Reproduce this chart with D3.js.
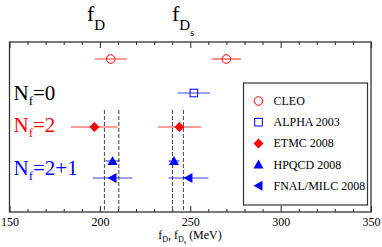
<!DOCTYPE html>
<html>
<head>
<meta charset="utf-8">
<script src="https://cdn.jsdelivr.net/npm/d3@7"></script>
<style>
  body { margin: 0; background: #fff; }
  svg text { font-family: 'Liberation Serif', 'DejaVu Serif', serif; }
</style>
</head>
<body>
<svg id="chart" width="382" height="247"></svg>
<script>
// data
var series = ['CLEO', 'ALPHA 2003', 'ETMC 2008', 'HPQCD 2008', 'FNAL/MILC 2008'];
var rows = [1, 2, 3, 4, 4.5];          // vertical slot of each series
var fD = [206, null, 197, 207, 207];
var fDerr = [9, null, 13, 4, 11];
var fDs = [270, 252, 244, 241, 249];
var fDserr = [8, 9, 12, 3, 11];
var colors = ['#ff0000', '#0000ff', '#ff0000', '#0000ff', '#0000ff'];
var symbols = ['circle', 'square', 'diamond', 'triangle', 'left'];
var bands = [202.5, 210.5, 240.2, 246.2];   // dashed vertical lines
var xTicks = [150, 200, 250, 300, 350];

var margin = { top: 42, right: 11, bottom: 35, left: 9.5 };
var width = 382 - margin.left - margin.right;
var height = 247 - margin.top - margin.bottom;

var svg = d3.select('#chart').append('g')
  .attr('transform', 'translate(' + margin.left + ',' + margin.top + ')');

var xScale = d3.scaleLinear().domain([150, 350]).range([0, width]);
var yScale = d3.scaleLinear().domain([0.5, 5.5]).range([0, height]);

// minor and major ticks, bottom and top, pointing inside
function axes(fn, ty, ticks, size, labels) {
  var ax = fn(xScale).tickValues(ticks).tickSize(size).tickSizeOuter(0);
  if (!labels) ax.tickFormat('');
  var g = svg.append('g').attr('transform', 'translate(0,' + ty + ')').call(ax);
  g.select('.domain').remove();
  g.selectAll('line').attr('stroke', '#222');
  return g;
}
var minor = d3.range(160, 350, 10).filter(function (v) { return v % 50 !== 0; });
axes(d3.axisBottom, height, minor, -3, false);
axes(d3.axisTop, 0, minor, -3, false);
var bx = axes(d3.axisBottom, height, xTicks, -6, true);
bx.selectAll('text').attr('y', 5).attr('font-size', '12px')
  .attr('fill', '#000').style('font-family', "'Liberation Serif', serif");
axes(d3.axisTop, 0, xTicks, -6, false);

// dashed bands
svg.selectAll('.band').data(bands).enter().append('line')
  .attr('x1', function (d) { return xScale(d); })
  .attr('x2', function (d) { return xScale(d); })
  .attr('y1', yScale(2.5)).attr('y2', height)
  .attr('stroke', '#444').attr('stroke-width', 1)
  .attr('stroke-dasharray', '4,2');

// points
var pts = [];
series.forEach(function (s, i) {
  if (fD[i] !== null) pts.push({ v: fD[i], e: fDerr[i], i: i });
  pts.push({ v: fDs[i], e: fDserr[i], i: i });
});

svg.selectAll('.err').data(pts).enter().append('line')
  .attr('x1', function (d) { return xScale(d.v - d.e); })
  .attr('x2', function (d) { return xScale(d.v + d.e); })
  .attr('y1', function (d) { return yScale(rows[d.i]); })
  .attr('y2', function (d) { return yScale(rows[d.i]); })
  .attr('stroke', function (d) { return colors[d.i]; })
  .attr('stroke-opacity', 0.75)
  .attr('stroke-width', 1.2);

function drawSymbol(g, kind, color) {
  if (kind === 'circle') {
    g.append('circle').attr('r', 4.3).attr('fill', 'none')
      .attr('stroke', color).attr('stroke-width', 1);
  } else if (kind === 'square') {
    g.append('rect').attr('x', -3.8).attr('y', -3.8).attr('width', 7.6).attr('height', 7.6)
      .attr('fill', 'none').attr('stroke', color).attr('stroke-width', 1);
  } else if (kind === 'diamond') {
    g.append('path').attr('d', 'M0,-5L5,0L0,5L-5,0Z').attr('fill', color);
  } else if (kind === 'triangle') {
    g.append('path').attr('d', 'M0,-5L5,4L-5,4Z').attr('fill', color);
  } else {
    g.append('path').attr('d', 'M-5,0L4,-5L4,5Z').attr('fill', color);
  }
}

svg.selectAll('.pt').data(pts).enter().append('g')
  .attr('transform', function (d) {
    return 'translate(' + xScale(d.v) + ',' + yScale(rows[d.i]) + ')';
  })
  .each(function (d) { drawSymbol(d3.select(this), symbols[d.i], colors[d.i]); });

// frame
svg.append('rect').attr('width', width).attr('height', height)
  .attr('fill', 'none').attr('stroke', '#333').attr('stroke-width', 1.3);

// Nf labels
function nfLabel(x, y, txt, color) {
  var t = svg.append('text').attr('x', x).attr('y', y)
    .attr('fill', color).attr('font-size', '21px');
  t.append('tspan').text('N');
  t.append('tspan').attr('font-size', '13px').attr('dy', 5).text('f');
  t.append('tspan').attr('dy', -5).text(txt);
}
nfLabel(4, yScale(2) + 7, '=0', '#000');
nfLabel(4, yScale(3) + 5, '=2', '#ff0000');
nfLabel(4, yScale(4.25) + 5, '=2+1', '#0000ff');

// legend
var lg = svg.append('g').attr('transform', 'translate(234,41)');
lg.append('rect').attr('x', 0).attr('y', 0).attr('width', 124).attr('height', 122)
  .attr('fill', '#fff').attr('stroke', '#333').attr('stroke-width', 1.2);
series.forEach(function (s, i) {
  var row = lg.append('g').attr('transform', 'translate(15,' + (18 + i * 21.2) + ')');
  drawSymbol(row, symbols[i], colors[i]);
  row.append('text').attr('x', 15).attr('y', 4).attr('font-size', '12px').text(s);
});

// titles above
function title(x, y, sub, subsub) {
  var t = d3.select('#chart').append('text').attr('x', x).attr('y', y).attr('font-size', '22px');
  t.append('tspan').text('f');
  t.append('tspan').attr('font-size', '15px').attr('dy', 9).text(sub);
  if (subsub) t.append('tspan').attr('font-size', '10px').attr('dy', 6).text(subsub);
}
title(87, 21, 'D');
title(172, 21, 'D', 's');

// x axis label
var xl = d3.select('#chart').append('text')
  .attr('x', 190).attr('y', 239).attr('text-anchor', 'middle').attr('font-size', '12px');
xl.append('tspan').text('f');
xl.append('tspan').attr('font-size', '8px').attr('dy', 3).text('D');
xl.append('tspan').attr('dy', -3).text(', f');
xl.append('tspan').attr('font-size', '8px').attr('dy', 3).text('D');
xl.append('tspan').attr('font-size', '6px').attr('dy', 2).text('s');
xl.append('tspan').attr('dy', -5).text(' (MeV)');
</script>
</body>
</html>
